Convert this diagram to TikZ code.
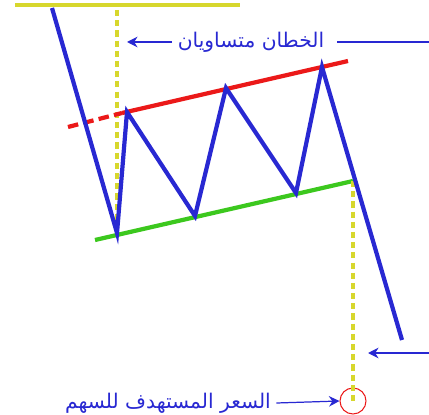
\documentclass[tikz,border=0pt]{standalone}
\usepackage{fontspec}
\TeXXeTstate=1
\newfontfamily\arabicfont[Script=Arabic]{DejaVu Sans}
\usetikzlibrary{arrows.meta, positioning}
\definecolor{priceblue}{RGB}{40, 40, 210}
\definecolor{topred}{RGB}{235, 25, 25}
\definecolor{basegreen}{RGB}{60, 200, 30}
\definecolor{guideyellow}{RGB}{215, 215, 45}

\begin{document}
\begin{tikzpicture}[x=0.02cm, y=-0.02cm,
    price/.style={draw=priceblue, line width=2.4pt, line join=miter},
    upper/.style={draw=topred, line width=2.4pt},
    lower/.style={draw=basegreen, line width=2.4pt},
    guide/.style={draw=guideyellow, line width=2pt, dash pattern=on 3.5pt off 2.3pt},
    note/.style={font=\arabicfont\fontsize{11.5}{13}\selectfont, text=priceblue, inner sep=3pt},
    ptr/.style={-{Stealth[length=6pt, width=6pt]}, priceblue, line width=0.7pt},
    tgt/.style={circle, draw=topred, line width=0.6pt, inner sep=0pt}
]
\useasboundingbox (0,0) rectangle (429,415);

% Price path points
\coordinate (p0) at (52,8);
\coordinate (p1) at (117,233);
\coordinate (p2) at (127,112);
\coordinate (p3) at (195,216);
\coordinate (p4) at (226,88);
\coordinate (p5) at (296,193);
\coordinate (p6) at (322,67);
\coordinate (p7) at (402,340);

% Top line and guides
\coordinate (ya) at (15,5);
\coordinate (yb) at (240,5);
\draw[guideyellow, line width=2pt] (ya) -- (yb);
\coordinate (g1a) at (117,10);
\draw[guide] (g1a) -- (p1);

% Channel lines
\coordinate (ra) at (68,127);
\coordinate (rb) at (122,113);
\coordinate (rc) at (348,61);
\draw[upper, dash pattern=on 6pt off 3pt] (ra) -- (rb);
\draw[upper] (rb) -- (rc);
\coordinate (ga) at (95,240);
\coordinate (gb) at (353,181);
\draw[lower] (ga) -- (gb);

% Target
\node[tgt, minimum size=0.52cm] (goal) at (353,401) {};
\draw[guide] (gb) -- (goal.center);

% Price
\draw[price] (p0) -- (p1) -- (p2) -- (p3) -- (p4) -- (p5) -- (p6) -- (p7);

% Labels
\node[note] (eq) at (251,42) {\beginR الخطان متساويان\endR};
\coordinate (eqtip) at (127,42);
\coordinate (eqedge) at (429,42);
\draw[priceblue, line width=0.7pt] (eqedge) -- ([xshift=4pt]eqedge -| eq.east);
\draw[ptr] (eq.west) -- (eqtip);

\coordinate (brk) at (429,353);
\coordinate (brktip) at (368,353);
\draw[ptr] (brk) -- (brktip);

\node[note] (goaltxt) at (168,403) {\beginR السعر المستهدف للسهم\endR};
\draw[ptr] (goaltxt.east) -- (goal.west);

\end{tikzpicture}
\end{document}
